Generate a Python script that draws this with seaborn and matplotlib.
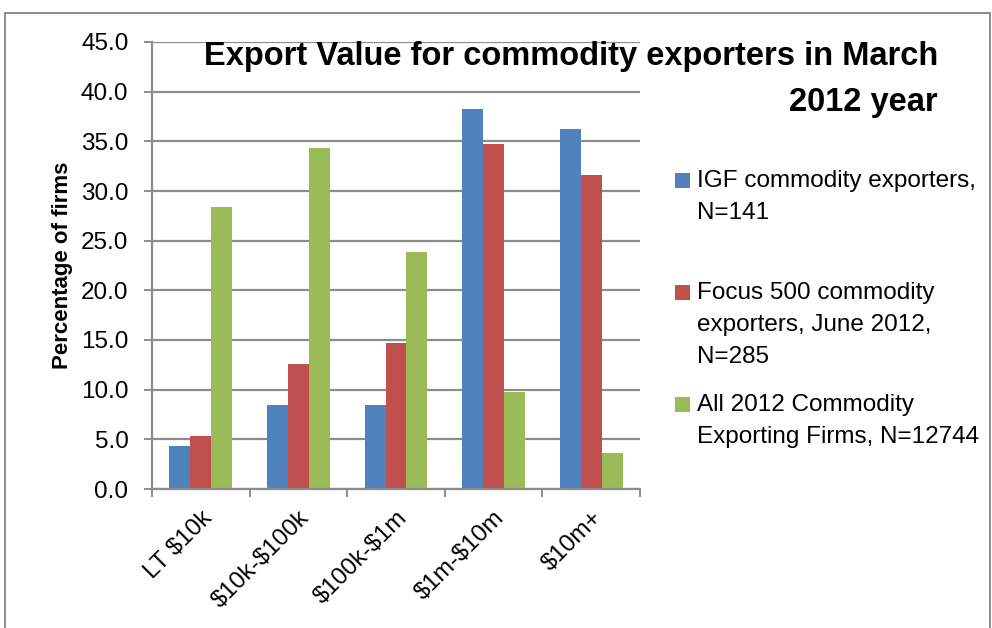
import matplotlib
matplotlib.use("Agg")
import matplotlib.pyplot as plt
from matplotlib.patches import Rectangle
import seaborn as sns
import pandas as pd

categories = ["LT $10k", "$10k-$100k", "$100k-$1m", "$1m-$10m", "$10m+"]
series_names = [
    "IGF commodity exporters,\nN=141",
    "Focus 500 commodity\nexporters, June 2012,\nN=285",
    "All 2012 Commodity\nExporting Firms, N=12744",
]
igf_values = [4.3, 8.5, 8.5, 38.3, 36.2]
focus_values = [5.3, 12.6, 14.7, 34.7, 31.6]
all_values = [28.4, 34.3, 23.9, 9.8, 3.6]
colors = ["#4F81BD", "#C0504D", "#9BBB59"]
y_ticks = [0, 5, 10, 15, 20, 25, 30, 35, 40, 45]

rows = []
for name, vals in zip(series_names, [igf_values, focus_values, all_values]):
    for cat, v in zip(categories, vals):
        rows.append({"category": cat, "series": name, "value": v})
df = pd.DataFrame(rows)

sns.set_theme(style="white")
plt.rcParams["font.family"] = ["Liberation Sans", "DejaVu Sans"]
plt.rcParams["text.parse_math"] = False

fig = plt.figure(figsize=(9.92, 6.28), dpi=100)
ax = fig.add_axes([152 / 992, 1 - 489 / 628, 488 / 992, 447 / 628])

sns.barplot(data=df, x="category", y="value", hue="series", order=categories,
            hue_order=series_names, palette=colors, width=0.645, gap=0,
            saturation=1, ax=ax, legend=False, edgecolor="none")

grid_color = "#8C8C8C"
text_size = 17.5
ax.set_ylim(0, 45)
ax.set_xlim(-0.5, len(categories) - 0.5)
ax.set_yticks(y_ticks)
ax.set_yticklabels([f"{t:.1f}" for t in y_ticks], fontsize=text_size, color="black")
ax.yaxis.grid(True, color=grid_color, linewidth=1.6)
ax.set_axisbelow(True)
ax.set_xticks(range(len(categories)))
ax.set_xticklabels(categories, rotation=45, ha="right", rotation_mode="anchor",
                   fontsize=text_size, color="black")
ax.set_xticks([i - 0.5 for i in range(len(categories) + 1)], minor=True)
ax.tick_params(axis="x", which="major", length=0, pad=13)
ax.tick_params(axis="x", which="minor", length=6, width=1.4, color=grid_color,
               direction="out", bottom=True)
ax.tick_params(axis="y", length=6, width=1.4, color=grid_color, left=True,
               direction="out", pad=11)
for side in ["top", "right"]:
    ax.spines[side].set_visible(False)
for side in ["left", "bottom"]:
    ax.spines[side].set_color(grid_color)
    ax.spines[side].set_linewidth(1.6)
ax.set_xlabel("")
ax.set_ylabel("Percentage of firms", fontsize=16, fontweight="bold",
              labelpad=6, color="black")

# Chart title, right aligned across two lines
fig.text(938 / 992, 1 - 56 / 628, "Export Value for commodity exporters in March",
         ha="right", va="center", fontsize=23.5, fontweight="bold", color="black")
fig.text(938 / 992, 1 - 103 / 628, "2012 year",
         ha="right", va="center", fontsize=23.5, fontweight="bold", color="black")

# Legend entries on the right
line_gap = 32
starts = [181, 293, 405]
for name, color, y0 in zip(series_names, colors, starts):
    fig.patches.append(Rectangle((675 / 992, 1 - (y0 + 7) / 628), 15 / 992, 15 / 628,
                                 transform=fig.transFigure, facecolor=color,
                                 edgecolor="none"))
    for k, line in enumerate(name.split("\n")):
        fig.text(697 / 992, 1 - (y0 + k * line_gap) / 628, line,
                 ha="left", va="center", fontsize=text_size, color="black")

# Chart area border
fig.patches.append(Rectangle((5 / 992, -0.01), 985 / 992, 1.01 - 13 / 628,
                             transform=fig.transFigure, facecolor="none",
                             edgecolor=grid_color, linewidth=1.4))

fig.savefig("out.png", dpi=100)
